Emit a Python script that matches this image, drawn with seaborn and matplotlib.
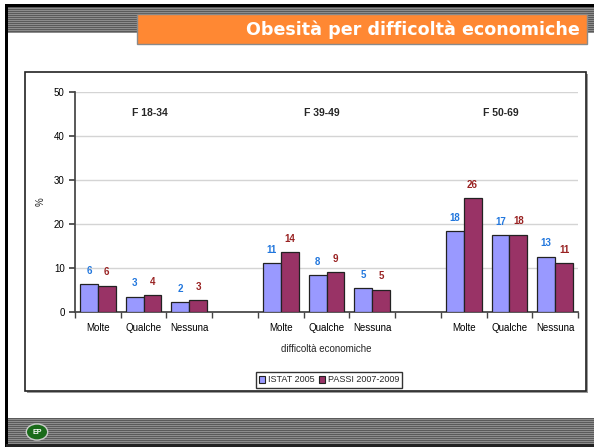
import matplotlib.pyplot as plt
import matplotlib.patches as mpatches
import numpy as np
import pandas as pd
import seaborn as sns

# data
groups = ["F 18-34", "F 39-49", "F 50-69"]
levels = ["Molte", "Qualche", "Nessuna"]
series = ["ISTAT 2005", "PASSI 2007-2009"]
istat = [6.3, 3.5, 2.3, 11.1, 8.4, 5.4, 18.4, 17.4, 12.6]
passi = [6.0, 3.9, 2.7, 13.6, 9.0, 5.1, 25.8, 17.6, 11.1]
istat_labels = [6, 3, 2, 11, 8, 5, 18, 17, 13]
passi_labels = [6, 4, 3, 14, 9, 5, 26, 18, 11]

# slots: 3 groups of 3 bars with an empty slot in between
order = []
for gi, g in enumerate(groups):
    order += [f"{g} {lv}" for lv in levels]
    if gi < len(groups) - 1:
        order.append(f"gap{gi}")
slot_names = [f"{g} {lv}" for g in groups for lv in levels]

df = pd.DataFrame({
    "slot": slot_names * 2,
    "value": istat + passi,
    "series": [series[0]] * 9 + [series[1]] * 9,
})

sns.set_theme(style="white")
plt.rcParams["font.family"] = ["Liberation Sans", "DejaVu Sans"]

fig = plt.figure(figsize=(5.94, 4.47), dpi=100)
W, H = 594, 447


def box(x0, y0, x1, y1, **kw):
    # rectangle in pixel coords (y from top)
    r = mpatches.Rectangle((x0 / W, 1 - y1 / H), (x1 - x0) / W, (y1 - y0) / H,
                           transform=fig.transFigure, **kw)
    fig.add_artist(r)
    return r


# slide frame: striped header and footer
for y in range(5, 33, 2):
    box(6, y, W, y + 1, facecolor="#5a5a5a", edgecolor="none", zorder=0)
    box(6, y + 1, W, y + 2, facecolor="#8c8c8c", edgecolor="none", zorder=0)
for y in range(418, 447, 2):
    box(6, y, W, y + 1, facecolor="#5a5a5a", edgecolor="none", zorder=0)
    box(6, y + 1, W, y + 2, facecolor="#8c8c8c", edgecolor="none", zorder=0)
box(6, 4, W, 7, facecolor="black", edgecolor="none", zorder=0)
box(5, 4, 8, H, facecolor="black", edgecolor="none", zorder=0)
box(6, 444, W, H, facecolor="#222222", edgecolor="none", zorder=0)

# orange title box
box(137, 14, 587, 44, facecolor="#FF8833", edgecolor="#8a8a8a", linewidth=1, zorder=1)
fig.text(580 / W, 1 - 30 / H, "Obesità per difficoltà economiche", ha="right", va="center",
         color="white", fontsize=12.6, fontweight="bold", family="DejaVu Sans")

# chart box
box(27, 74, 588, 393, facecolor="#9a9a9a", edgecolor="none", zorder=0)
box(25, 72, 586, 391, facecolor="white", edgecolor="#222222", linewidth=1.2, zorder=0)

# logo
logo = mpatches.Circle((37 / W, 1 - 432 / H), 0.018, transform=fig.transFigure,
                       facecolor="#1a6b1a", edgecolor="#cccccc", linewidth=1)
fig.add_artist(logo)
fig.text(37 / W, 1 - 432 / H, "EP", ha="center", va="center", color="white",
         fontsize=5, fontweight="bold")

ax = fig.add_axes([75 / W, 1 - 312 / H, (578 - 75) / W, (312 - 92) / H])
ax.set_facecolor("none")
sns.barplot(data=df, x="slot", y="value", hue="series", order=order,
            hue_order=series, palette=["#9999FF", "#993366"], width=0.78,
            saturation=1, edgecolor="#222222", linewidth=0.9, ax=ax, legend=False, zorder=3)

ax.set_ylim(0, 50)
ax.set_xlim(-0.5, len(order) - 0.5)
ax.set_yticks(range(0, 51, 10))
ax.yaxis.grid(True, color="#d4d4d4", linewidth=1)
ax.set_axisbelow(True)
for s in ["top", "right"]:
    ax.spines[s].set_visible(False)
ax.spines["left"].set_color("#444444")
ax.spines["bottom"].set_color("#444444")

# category labels at slot centres, tick marks at slot boundaries
ax.set_xticks(range(len(order)))
ax.set_xticklabels(["" if o.startswith("gap") else o.split(" ")[-1] for o in order])
ax.set_xticks(np.arange(-0.5, len(order)), minor=True)
ax.tick_params(axis="x", which="major", length=0, labelsize=7, pad=8, colors="black")
ax.tick_params(axis="x", which="minor", length=4, color="#444444", bottom=True)
ax.tick_params(axis="y", length=4, labelsize=7, colors="black", left=True, color="#444444")
ax.set_xlabel("difficoltà economiche", fontsize=7, labelpad=8)
ax.set_ylabel("%", fontsize=7, labelpad=6)

# value labels
lab_map = [dict(zip(slot_names, istat_labels)), dict(zip(slot_names, passi_labels))]
lab_col = ["#2277DD", "#992222"]
for ci, cont in enumerate(ax.containers):
    for bar in cont:
        h = bar.get_height()
        if not np.isfinite(h) or h == 0:
            continue
        xc = bar.get_x() + bar.get_width() / 2
        name = order[int(round(xc))]
        ax.annotate(str(lab_map[ci][name]), (xc, h), xytext=(0, 6), textcoords="offset points",
                    ha="center", va="bottom", color=lab_col[ci], fontsize=7, fontweight="bold")

# group titles
for gx, g in zip([1.14, 4.9, 8.82], groups):
    ax.text(gx, 45.2, g, ha="center", va="center", fontsize=7.5, fontweight="bold")

handles = [mpatches.Patch(facecolor=c, edgecolor="#222222", linewidth=0.8, label=s)
           for c, s in zip(["#9999FF", "#993366"], series)]
fig.legend(handles=handles, loc="center", bbox_to_anchor=(329 / W, 1 - 380 / H), ncol=2,
           fontsize=6.5, frameon=True, fancybox=False, edgecolor="#333333",
           handlelength=0.7, handleheight=0.7, handletextpad=0.3, columnspacing=0.5,
           borderpad=0.35, framealpha=1)

fig.savefig("out.png", dpi=100)
